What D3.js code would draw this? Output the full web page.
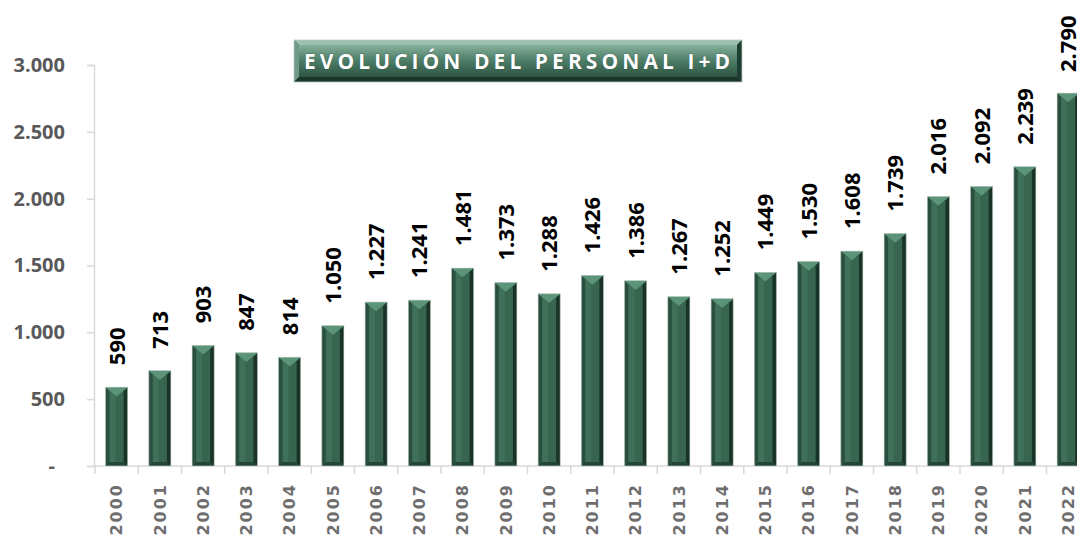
<!DOCTYPE html>
<html>
  <head>
    <meta charset="utf-8" />
    <title>Evolución del personal I+D</title>
    <style>
      body { margin: 0; background: #fff; }
      svg { display: block; }
    </style>
  </head>
  <body>
    <svg id="chart" width="1077" height="537"></svg>
    <script src="https://d3js.org/d3.v7.min.js"></script>
    <script>
      // data
      const years = ["2000", "2001", "2002", "2003", "2004", "2005", "2006", "2007",
        "2008", "2009", "2010", "2011", "2012", "2013", "2014", "2015", "2016",
        "2017", "2018", "2019", "2020", "2021", "2022"];
      const personal = [590, 713, 903, 847, 814, 1050, 1227, 1241, 1481, 1373, 1288,
        1426, 1386, 1267, 1252, 1449, 1530, 1608, 1739, 2016, 2092, 2239, 2790];
      const yTicks = [0, 500, 1000, 1500, 2000, 2500, 3000];
      const title = "EVOLUCIÓN DEL PERSONAL I+D";

      const svg = d3.select("#chart");

      // thousands with a dot, zero shown as "-"
      const fmt = d3.formatLocale({ decimal: ",", thousands: ".", grouping: [3], currency: ["", "€"] }).format(",d");

      const axisLeftX = 94, axisBottomY = 466;

      let xScale = d3.scaleBand()
        .domain(years)
        .range([axisLeftX + 1, axisLeftX + 1 + years.length * 43.25])
        .paddingInner(0.49)
        .paddingOuter(0.245);

      let yScale = d3.scaleLinear()
        .domain([0, 3000])
        .range([axisBottomY, 65]);

      // y axis
      const yAxis = svg.append("g")
        .attr("transform", "translate(" + axisLeftX + ",0)")
        .call(d3.axisLeft(yScale).tickValues(yTicks).tickSize(7).tickPadding(22)
          .tickFormat(d => d === 0 ? "-" : fmt(d)));
      yAxis.select(".domain").attr("stroke", "#d9d9d9").attr("stroke-width", 1.5);
      yAxis.selectAll(".tick line").attr("stroke", "#d9d9d9").attr("stroke-width", 1.5);
      yAxis.selectAll(".tick text")
        .attr("fill", "#595959")
        .style("font-family", "'Open Sans', sans-serif")
        .style("font-weight", "bold")
        .style("font-size", "20px")
        .attr("dx", d => d === 0 ? -10 : 0);

      // x axis, ticks on band boundaries
      const xAxis = svg.append("g")
        .attr("transform", "translate(0," + axisBottomY + ")");
      xAxis.append("line")
        .attr("x1", axisLeftX).attr("x2", 1077)
        .attr("stroke", "#d9d9d9").attr("stroke-width", 1.5);
      xAxis.selectAll(".sep")
        .data(years)
        .join("line")
        .attr("class", "sep")
        .attr("x1", d => xScale(d) - xScale.step() * 0.245)
        .attr("x2", d => xScale(d) - xScale.step() * 0.245)
        .attr("y1", 0).attr("y2", 8)
        .attr("stroke", "#d9d9d9").attr("stroke-width", 1.5);
      xAxis.selectAll(".lbl")
        .data(years)
        .join("text")
        .attr("class", "lbl")
        .attr("transform", d => "translate(" + (xScale(d) + xScale.bandwidth() / 2) + ",17) rotate(-90)")
        .attr("text-anchor", "end")
        .attr("dy", "0.36em")
        .attr("fill", "#6e6e6e")
        .style("font-family", "'DejaVu Sans', sans-serif")
        .style("font-weight", "bold")
        .style("font-size", "16px")
        .style("letter-spacing", "2px")
        .text(d => d);

      // bevelled bars
      const bars = svg.selectAll(".bar")
        .data(years.map((y, i) => ({ year: y, value: personal[i] })))
        .join("g")
        .attr("class", "bar");

      const b = 4;
      bars.each(function (d) {
        const g = d3.select(this);
        const x0 = xScale(d.year), w = xScale.bandwidth();
        const x1 = x0 + w, top = yScale(d.value), bot = yScale(0);
        g.append("rect")
          .attr("x", x0).attr("y", top).attr("width", w).attr("height", bot - top)
          .attr("fill", "#386550");
        g.append("polygon")
          .attr("points", [[x0, top], [x0 + b, top + b], [x0 + b, bot - b], [x0, bot]].join(" "))
          .attr("fill", "#2b4f3e");
        g.append("polygon")
          .attr("points", [[x0 + b, top + b], [x0 + w * 0.45, top + b], [x0 + w * 0.45, bot - b], [x0 + b, bot - b]].join(" "))
          .attr("fill", "#3f7059");
        g.append("polygon")
          .attr("points", [[x1, top], [x1 - b, top + b], [x1 - b, bot - b], [x1, bot]].join(" "))
          .attr("fill", "#1a3327");
        g.append("polygon")
          .attr("points", [[x0, top], [x1, top], [x0 + w / 2, top + w * 0.42]].join(" "))
          .attr("fill", "#5b9479");
        g.append("polygon")
          .attr("points", [[x0, bot], [x1, bot], [x1 - b, bot - b], [x0 + b, bot - b]].join(" "))
          .attr("fill", "#24453a");
        g.append("rect")
          .attr("x", x0).attr("y", top).attr("width", w).attr("height", bot - top)
          .attr("fill", "none").attr("stroke", "#c9d3ce").attr("stroke-width", 0.6);
      });

      // value labels
      svg.selectAll(".val")
        .data(years.map((y, i) => ({ year: y, value: personal[i] })))
        .join("text")
        .attr("class", "val")
        .attr("transform", d => "translate(" + (xScale(d.year) + xScale.bandwidth() / 2) + "," + Math.max(yScale(d.value) - 22, 72) + ") rotate(-90)")
        .attr("dy", "0.36em")
        .attr("fill", "#000")
        .style("font-family", "'Open Sans', sans-serif")
        .style("font-weight", "bold")
        .style("font-size", "22px")
        .text(d => fmt(d.value));

      // title box
      const defs = svg.append("defs");
      const grad = defs.append("linearGradient")
        .attr("id", "titleGrad").attr("x1", 0).attr("y1", 0).attr("x2", 0).attr("y2", 1);
      grad.append("stop").attr("offset", "0%").attr("stop-color", "#86b09c");
      grad.append("stop").attr("offset", "45%").attr("stop-color", "#4f806a");
      grad.append("stop").attr("offset", "100%").attr("stop-color", "#2c5442");

      const tb = { x: 294, y: 40, w: 448, h: 42, e: 5 };
      const t = svg.append("g");
      t.append("rect")
        .attr("x", tb.x).attr("y", tb.y).attr("width", tb.w).attr("height", tb.h)
        .attr("fill", "#2f5847");
      t.append("polygon")
        .attr("points", [[tb.x, tb.y], [tb.x + tb.w, tb.y], [tb.x + tb.w - tb.e, tb.y + tb.e], [tb.x + tb.e, tb.y + tb.e]].join(" "))
        .attr("fill", "#9cc0ae");
      t.append("polygon")
        .attr("points", [[tb.x, tb.y], [tb.x + tb.e, tb.y + tb.e], [tb.x + tb.e, tb.y + tb.h - tb.e], [tb.x, tb.y + tb.h]].join(" "))
        .attr("fill", "#6f9a86");
      t.append("polygon")
        .attr("points", [[tb.x + tb.w, tb.y], [tb.x + tb.w - tb.e, tb.y + tb.e], [tb.x + tb.w - tb.e, tb.y + tb.h - tb.e], [tb.x + tb.w, tb.y + tb.h]].join(" "))
        .attr("fill", "#1f3d30");
      t.append("polygon")
        .attr("points", [[tb.x, tb.y + tb.h], [tb.x + tb.w, tb.y + tb.h], [tb.x + tb.w - tb.e, tb.y + tb.h - tb.e], [tb.x + tb.e, tb.y + tb.h - tb.e]].join(" "))
        .attr("fill", "#1b3529");
      t.append("rect")
        .attr("x", tb.x + tb.e).attr("y", tb.y + tb.e).attr("width", tb.w - 2 * tb.e).attr("height", tb.h - 2 * tb.e)
        .attr("fill", "url(#titleGrad)");
      t.append("rect")
        .attr("x", tb.x).attr("y", tb.y).attr("width", tb.w).attr("height", tb.h)
        .attr("fill", "none").attr("stroke", "#b9c9c1").attr("stroke-width", 0.8);
      t.append("text")
        .attr("x", 304).attr("y", tb.y + tb.h / 2)
        .attr("dy", "0.36em")
        .attr("textLength", 426)
        .attr("lengthAdjust", "spacing")
        .attr("fill", "#fff")
        .style("font-family", "'Open Sans', sans-serif")
        .style("font-weight", "bold")
        .style("font-size", "21px")
        .style("paint-order", "stroke")
        .attr("stroke", "#2a4b3c").attr("stroke-width", 0.6)
        .text(title);
    </script>
  </body>
</html>
